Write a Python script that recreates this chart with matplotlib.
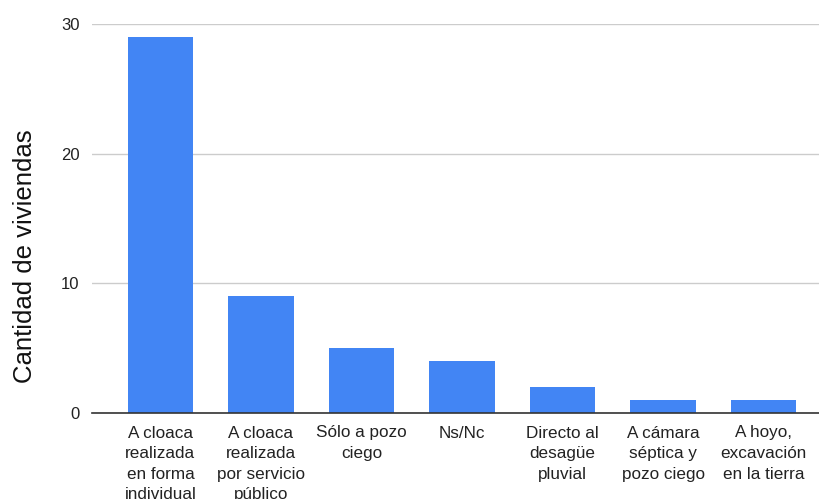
import matplotlib
matplotlib.use("Agg")
import matplotlib.pyplot as plt

plt.rcParams['font.family'] = ['Liberation Sans', 'DejaVu Sans']

categories = [
    "A cloaca\nrealizada\nen forma\nindividual",
    "A cloaca\nrealizada\npor servicio\npúblico",
    "Sólo a pozo\nciego",
    "Ns/Nc",
    "Directo al\ndesagüe\npluvial",
    "A cámara\nséptica y\npozo ciego",
    "A hoyo,\nexcavación\nen la tierra",
]
values = [29, 9, 5, 4, 2, 1, 1]
y_ticks = [0, 10, 20, 30]

W, H = 820, 499
fig = plt.figure(figsize=(W / 100, H / 100), dpi=100)
ax = fig.add_axes([92 / W, 1 - 413 / H, (820 - 92) / W, (413 - 24) / H])

x = list(range(len(categories)))
ax.bar(x, values, width=0.65, color="#4285F4", zorder=3)

ax.set_xlim(-0.68, 6.56)
ax.set_ylim(0, 30)
ax.set_yticks(y_ticks)
ax.set_yticklabels([str(t) for t in y_ticks], fontsize=12, color="#222222")
ax.set_xticks(x)
ax.set_xticklabels(categories, fontsize=12.3, color="#222222", linespacing=1.46,
                   va="top", ha="center")
ax.tick_params(axis="both", length=0)
ax.tick_params(axis="y", pad=9)
ax.tick_params(axis="x", pad=9)

ax.grid(axis="y", color="#cccccc", linewidth=1, zorder=0)
for side in ["top", "right", "left"]:
    ax.spines[side].set_visible(False)
ax.spines["bottom"].set_color("#333333")
ax.spines["bottom"].set_linewidth(1.2)
ax.spines["bottom"].set_zorder(4)

fig.text(25 / W, 1 - 256 / H, "Cantidad de viviendas", rotation=90,
         ha="center", va="center", fontsize=18.5, color="#111111")

fig.savefig("out.png", dpi=100)
